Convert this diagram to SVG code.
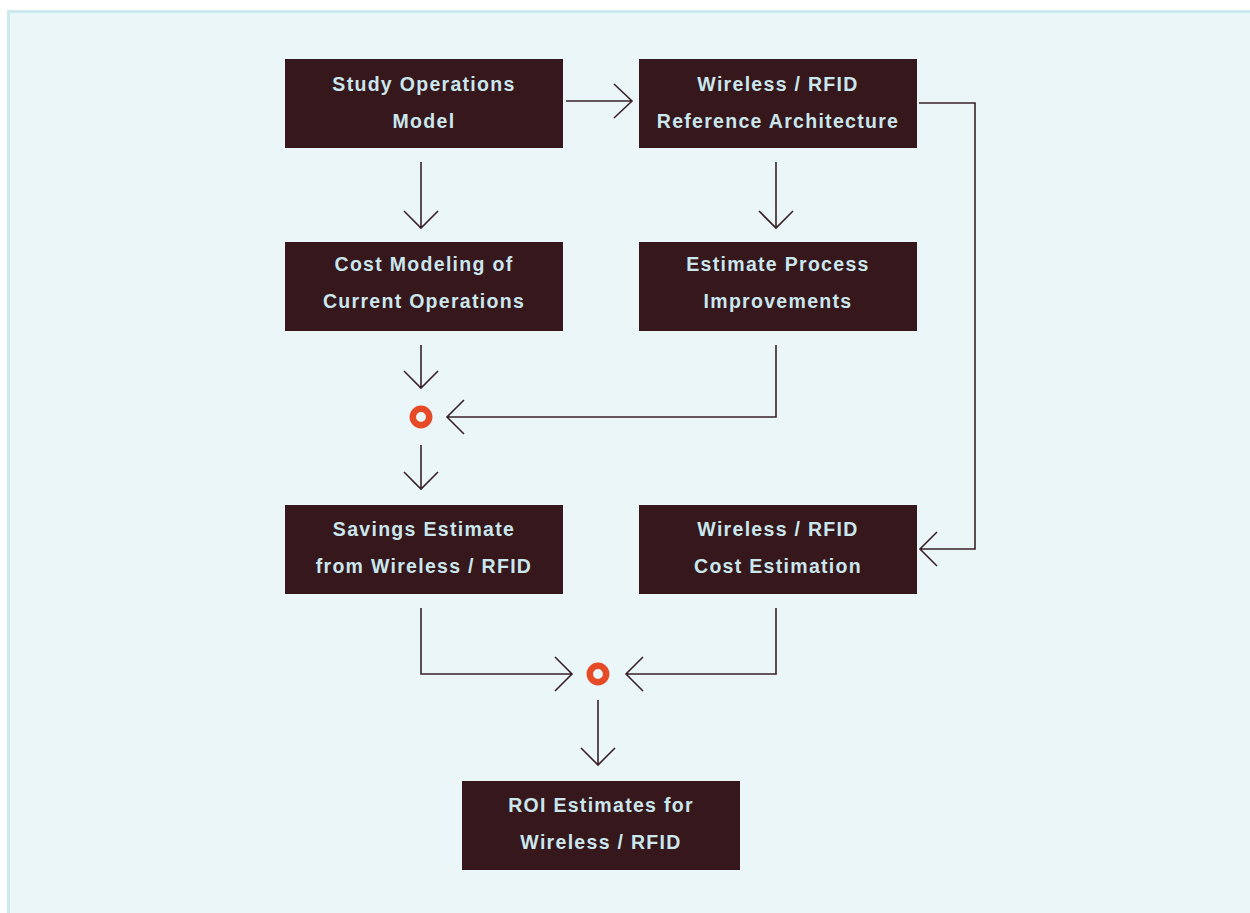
<svg xmlns="http://www.w3.org/2000/svg" width="1250" height="913" viewBox="0 0 1250 913">
<style>
.bg{fill:#eaf6f8;stroke:#cde9f0;stroke-width:3}
.box{fill:#35171c}
.t{font-family:"Liberation Sans",Arial,sans-serif;font-size:19.5px;font-weight:700;fill:#cbe7ee;text-anchor:middle;letter-spacing:1.3px}
.c{fill:none;stroke:#3a2228;stroke-width:1.6}
.dot{fill:none;stroke:#e64a26;stroke-width:6.5}
</style>
<rect class="bg" x="8.5" y="11.5" width="1260" height="920"/>
<g id="n1"><rect class="box" x="285" y="59" width="278" height="89"/><text class="t" x="424" y="91">Study Operations</text><text class="t" x="424" y="128">Model</text></g>
<g id="n2"><rect class="box" x="639" y="59" width="278" height="89"/><text class="t" x="778" y="91">Wireless / RFID</text><text class="t" x="778" y="128">Reference Architecture</text></g>
<g id="n3"><rect class="box" x="285" y="242" width="278" height="89"/><text class="t" x="424" y="271">Cost Modeling of</text><text class="t" x="424" y="308">Current Operations</text></g>
<g id="n4"><rect class="box" x="639" y="242" width="278" height="89"/><text class="t" x="778" y="271">Estimate Process</text><text class="t" x="778" y="308">Improvements</text></g>
<g id="n5"><rect class="box" x="285" y="505" width="278" height="89"/><text class="t" x="424" y="536">Savings Estimate</text><text class="t" x="424" y="573">from Wireless / RFID</text></g>
<g id="n6"><rect class="box" x="639" y="505" width="278" height="89"/><text class="t" x="778" y="536">Wireless / RFID</text><text class="t" x="778" y="573">Cost Estimation</text></g>
<g id="n7"><rect class="box" x="462" y="781" width="278" height="89"/><text class="t" x="601" y="812">ROI Estimates for</text><text class="t" x="601" y="849">Wireless / RFID</text></g>
<g id="j1"><circle class="dot" cx="421" cy="417" r="8.2"/></g>
<g id="j2"><circle class="dot" cx="598" cy="674" r="8.2"/></g>
<g id="connectors">
<path class="c" d="M566 101H632M614 84L632 101L614 118"/>
<path class="c" d="M421 162V228M404 211L421 228L438 211"/>
<path class="c" d="M776 162V228M759 211L776 228L793 211"/>
<path class="c" d="M421 345V388M404 371L421 388L438 371"/>
<path class="c" d="M776 345V417H447M464 400L447 417L464 434"/>
<path class="c" d="M421 445V489M404 472L421 489L438 472"/>
<path class="c" d="M919 103H975V549H920M937 532L920 549L937 566"/>
<path class="c" d="M421 608V674H572M555 657L572 674L555 691"/>
<path class="c" d="M776 608V674H626M643 657L626 674L643 691"/>
<path class="c" d="M598 700V765M581 748L598 765L615 748"/>
</g>
</svg>
